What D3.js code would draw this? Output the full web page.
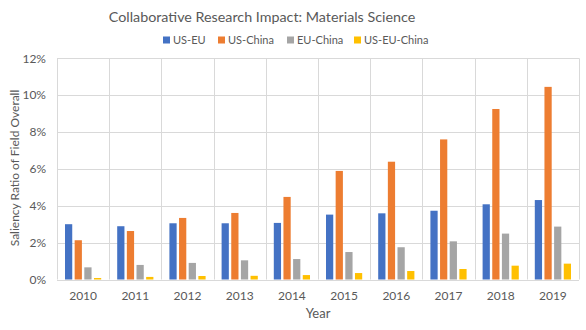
<!DOCTYPE html>
<html>
<head>
<meta charset="utf-8">
<script src="https://cdn.jsdelivr.net/npm/d3@7"></script>
<style>
  body { margin: 0; background: #fff; }
  text { font-family: Lato, "Open Sans", sans-serif; fill: #595959; }
</style>
</head>
<body>
<svg></svg>
<script>
"use strict";

var years = ["2010", "2011", "2012", "2013", "2014", "2015", "2016", "2017", "2018", "2019"];
var seriesNames = ["US-EU", "US-China", "EU-China", "US-EU-China"];
var usEu = [3.0, 2.89, 3.05, 3.05, 3.07, 3.52, 3.59, 3.73, 4.08, 4.31];
var usChina = [2.13, 2.63, 3.34, 3.61, 4.48, 5.89, 6.39, 7.6, 9.25, 10.45];
var euChina = [0.66, 0.79, 0.9, 1.04, 1.11, 1.49, 1.75, 2.07, 2.49, 2.87];
var usEuChina = [0.08, 0.14, 0.19, 0.2, 0.24, 0.35, 0.46, 0.57, 0.75, 0.86];
var yTicks = [0, 2, 4, 6, 8, 10, 12];

var colors = ["#4472C4", "#ED7D31", "#A5A5A5", "#FFC000"];
var allSeries = [usEu, usChina, euChina, usEuChina];

var width = 586,
    height = 330;

var svg = d3.select("svg")
    .attr("width", width)
    .attr("height", height);

var x = d3.scaleBand()
    .domain(years)
    .range([57, 579]);

var y = d3.scaleLinear()
    .domain([0, 12])
    .range([279.5, 58.3]);

// inner band for the four bars of one year
var x1 = d3.scaleBand()
    .domain(seriesNames)
    .range([8, x.bandwidth() - 8])
    .paddingInner(0.25);

// horizontal gridlines
svg.append("g")
    .selectAll("line")
    .data(yTicks)
    .enter()
    .append("line")
    .attr("x1", 57)
    .attr("x2", 579)
    .attr("y1", function (d) { return Math.round(y(d)) + 0.5; })
    .attr("y2", function (d) { return Math.round(y(d)) + 0.5; })
    .attr("stroke", "#D9D9D9")
    .attr("stroke-width", 1);

// vertical gridlines between categories
svg.append("g")
    .selectAll("line")
    .data(years.concat(["end"]))
    .enter()
    .append("line")
    .attr("x1", function (d, i) { return Math.round(57 + i * x.bandwidth()) + 0.5; })
    .attr("x2", function (d, i) { return Math.round(57 + i * x.bandwidth()) + 0.5; })
    .attr("y1", y(12))
    .attr("y2", y(0))
    .attr("stroke", "#D9D9D9")
    .attr("stroke-width", 1);

// bars
var groups = svg.append("g")
    .selectAll("g")
    .data(years)
    .enter()
    .append("g")
    .attr("transform", function (d) { return "translate(" + x(d) + ",0)"; });

groups.selectAll("rect")
    .data(function (d, i) {
        return seriesNames.map(function (name, s) {
            return { name: name, value: allSeries[s][i], color: colors[s] };
        });
    })
    .enter()
    .append("rect")
    .attr("x", function (d) { return x1(d.name); })
    .attr("width", x1.bandwidth())
    .attr("y", function (d) { return y(d.value); })
    .attr("height", function (d) { return y(0) - y(d.value); })
    .attr("fill", function (d) { return d.color; });

// y tick labels
svg.append("g")
    .selectAll("text")
    .data(yTicks)
    .enter()
    .append("text")
    .attr("x", 46)
    .attr("y", function (d) { return y(d); })
    .attr("dy", "0.35em")
    .attr("text-anchor", "end")
    .style("font-size", "12px")
    .text(function (d) { return d + "%"; });

// x tick labels
svg.append("g")
    .selectAll("text")
    .data(years)
    .enter()
    .append("text")
    .attr("x", function (d) { return x(d) + x.bandwidth() / 2; })
    .attr("y", 296)
    .attr("dy", "0.35em")
    .attr("text-anchor", "middle")
    .style("font-size", "12px")
    .text(function (d) { return d; });

// title
svg.append("text")
    .attr("x", 262)
    .attr("y", 17)
    .attr("dy", "0.35em")
    .attr("text-anchor", "middle")
    .style("font-size", "14.3px")
    .text("Collaborative Research Impact: Materials Science");

// axis titles
svg.append("text")
    .attr("x", 318)
    .attr("y", 313)
    .attr("dy", "0.35em")
    .attr("text-anchor", "middle")
    .style("font-size", "13px")
    .text("Year");

svg.append("text")
    .attr("transform", "translate(15,168) rotate(-90)")
    .attr("dy", "0.35em")
    .attr("text-anchor", "middle")
    .style("font-size", "12px")
    .text("Saliency Ratio of Field Overall");

// legend
var legendX = [163, 218, 287, 354];
var legend = svg.append("g")
    .selectAll("g")
    .data(seriesNames)
    .enter()
    .append("g")
    .attr("transform", function (d, i) { return "translate(" + legendX[i] + ",40)"; });

legend.append("rect")
    .attr("x", 0)
    .attr("y", -3.5)
    .attr("width", 7)
    .attr("height", 7)
    .attr("fill", function (d, i) { return colors[i]; });

legend.append("text")
    .attr("x", 10)
    .attr("y", 0)
    .attr("dy", "0.35em")
    .style("font-size", "11px")
    .text(function (d) { return d; });
</script>
</body>
</html>
